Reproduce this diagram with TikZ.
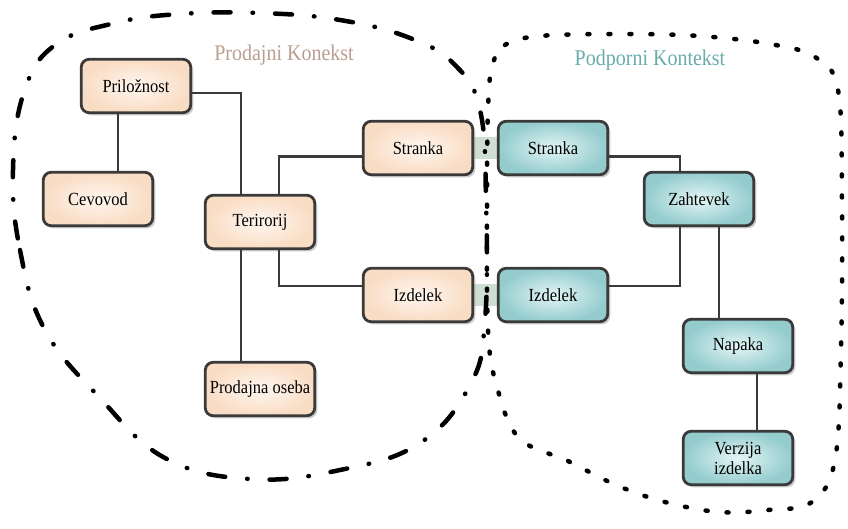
\documentclass[tikz,border=0pt]{standalone}
\usepackage{fontspec}
\usepackage{graphicx}
\setmainfont{Liberation Serif}
\usetikzlibrary{shadows,backgrounds}

\definecolor{peach}{RGB}{249,220,196}
\definecolor{peachlight}{RGB}{255,247,240}
\definecolor{tealdark}{RGB}{148,204,206}
\definecolor{teallight}{RGB}{228,245,245}
\definecolor{edgegray}{RGB}{58,58,58}
\definecolor{bandgreen}{RGB}{206,222,211}
\definecolor{salestitle}{RGB}{186,158,142}
\definecolor{supporttitle}{RGB}{104,172,172}

% box labels are set slightly taller than the plain face
\newcommand{\tallword}[1]{\scalebox{1}[1.12]{#1}}

\tikzset{
  box/.style={draw=edgegray, line width=2.8pt, rounded corners=8pt,
    minimum width=109.5pt, minimum height=53.5pt, inner sep=2pt,
    font=\fontsize{16.5}{20}\selectfont, align=center,
    drop shadow={shadow xshift=2.5pt, shadow yshift=-2.5pt, opacity=0.4}},
  salesbox/.style={box, inner color=peachlight, outer color=peach},
  supportbox/.style={box, inner color=teallight, outer color=tealdark},
  link/.style={draw=edgegray, line width=2.4pt},
  band/.style={fill=bandgreen},
  salesline/.style={line width=4.5pt, line cap=round,
    dash pattern=on 17pt off 22pt on 0.5pt off 22pt},
  supportline/.style={line width=4.5pt, line cap=round,
    dash pattern=on 2pt off 19pt},
  ctxtitle/.style={font=\fontsize{20}{24}\selectfont},
}

\begin{document}
\begin{tikzpicture}[x=1pt, y=-1pt]
\useasboundingbox (0,0) rectangle (848,528);

% context titles
\node[ctxtitle, text=salestitle] (salesname) at (284,55) {\tallword{Prodajni Konekst}};
\node[ctxtitle, text=supporttitle] (supportname) at (650,60) {\tallword{Podporni Kontekst}};

% sales context
\node[salesbox] (pril) at (136,86) {\tallword{Priložnost}};
\node[salesbox] (cev)  at (98,199) {\tallword{Cevovod}};
\node[salesbox] (ter)  at (260,222) {\tallword{Terirorij}};
\node[salesbox] (prod) at (260,389) {\tallword{Prodajna oseba}};
\node[salesbox] (strL) at (418,148) {\tallword{Stranka}};
\node[salesbox] (izdL) at (418,295) {\tallword{Izdelek}};

% support context
\node[supportbox] (strR) at (553,148) {\tallword{Stranka}};
\node[supportbox] (izdR) at (553,295) {\tallword{Izdelek}};
\node[supportbox] (zah)  at (699,199) {\tallword{Zahtevek}};
\node[supportbox] (nap)  at (738,346) {\tallword{Napaka}};
\node[supportbox] (ver)  at (738,458) {\tallword{Verzija}\\\tallword{izdelka}};

% connectors
\draw[link] ([xshift=-18pt]pril.south) -- ([xshift=-18pt]pril.south |- cev.north);
\draw[link] ([yshift=-7pt]pril.east) -| ([xshift=-19pt]ter.north);
\draw[link] ([xshift=19pt]ter.north) |- ([yshift=-8.5pt]strL.west);
\draw[link] ([xshift=19pt]ter.south) |- ([yshift=9pt]izdL.west);
\draw[link] ([xshift=-19pt]ter.south) -- ([xshift=-19pt]ter.south |- prod.north);
\draw[link] ([yshift=-8.5pt]strR.east) -| ([xshift=-19pt]zah.north);
\draw[link] ([xshift=-19pt]zah.south) |- ([yshift=9pt]izdR.east);
\draw[link] ([xshift=20pt]zah.south) -- ([xshift=20pt]zah.south |- nap.north);
\draw[link] ([xshift=19pt]nap.south) -- ([xshift=19pt]nap.south |- ver.north);

\begin{pgfonlayer}{background}
  % shared-kernel bands between the two contexts
  \fill[band] ([yshift=11pt]strL.east) rectangle ([yshift=-11pt]strR.west);
  \fill[band] ([yshift=11pt]izdL.east) rectangle ([yshift=-11pt]izdR.west);

  % context boundaries
  \draw[salesline] plot[smooth cycle, tension=0.7] coordinates {
    (13,170) (20,250) (45,330) (100,398) (165,458) (250,479) (340,470)
    (420,443) (470,385) (485,320) (486,200) (480,110) (455,65) (410,38)
    (340,20) (260,13) (180,14) (115,23) (55,45) (24,92)};
  \draw[supportline] plot[smooth cycle, tension=0.6] coordinates {
    (492,67) (505,45) (540,36) (620,34) (700,36) (770,44) (815,57)
    (838,90) (842,200) (841,350) (835,460) (812,502) (768,510) (719,512)
    (665,502) (616,485) (568,461) (519,438) (497,387) (488,330)
    (487,200) (488,110)};
\end{pgfonlayer}
\end{tikzpicture}
\end{document}
